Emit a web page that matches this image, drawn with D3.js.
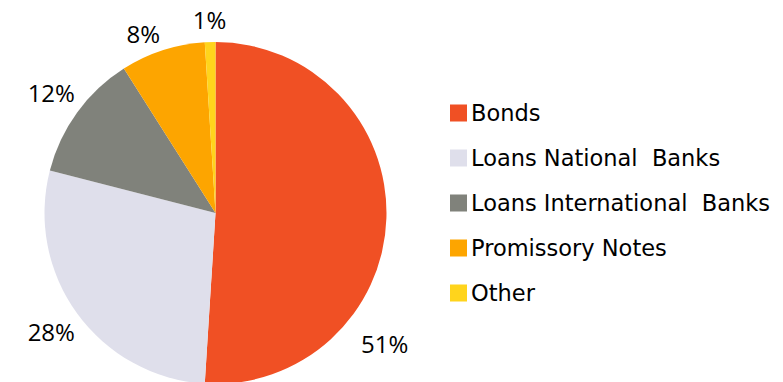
<!DOCTYPE html>
<html>
<head>
<meta charset="utf-8">
<script src="https://cdn.jsdelivr.net/npm/d3@7"></script>
<style>
  html, body { margin: 0; padding: 0; background: #fff; }
  svg { display: block; }
</style>
</head>
<body>
<svg id="chart" width="783" height="382"></svg>
<script>
// Funding sources, share of total (%)
const categories = ["Bonds", "Loans National  Banks", "Loans International  Banks", "Promissory Notes", "Other"];
const shares = [51, 28, 12, 8, 1];
const colors = ["#F05024", "#DFDFEB", "#80827B", "#FDA500", "#FFD41C"];

// Data-label placement (angle offset in degrees, radius) for each slice
const labelNudge = [
  { da: 36, r: 214 },
  { da: 0, r: 203 },
  { da: 0, r: 203 },
  { da: -4, r: 193 },
  { da: 0, r: 193 }
];

const width = 783, height = 382;
const cx = 215.5, cy = 213, radius = 171;

const svg = d3.select("#chart");

const pie = d3.pie().sort(null).value(d => d)
  .startAngle(0).endAngle(2 * Math.PI);
const arcs = pie(shares);

const arc = d3.arc().innerRadius(0).outerRadius(radius);
const color = d3.scaleOrdinal().domain(d3.range(categories.length)).range(colors);

const g = svg.append("g").attr("transform", `translate(${cx},${cy})`);

g.selectAll("path.slice")
  .data(arcs)
  .join("path")
  .attr("class", "slice")
  .attr("d", arc)
  .attr("fill", (d, i) => color(i));

const fmt = d3.format(".0f");
g.selectAll("text.value")
  .data(arcs)
  .join("text")
  .attr("class", "value")
  .attr("transform", (d, i) => {
    const a = (d.startAngle + d.endAngle) / 2 + labelNudge[i].da * Math.PI / 180;
    const r = labelNudge[i].r;
    return `translate(${r * Math.sin(a)},${-r * Math.cos(a)})`;
  })
  .attr("text-anchor", "middle")
  .attr("dy", "0.36em")
  .attr("font-family", "Open Sans")
  .attr("font-size", 24)
  .attr("font-weight", 500)
  .attr("fill", "#000")
  .text(d => fmt(d.data) + "%");

// Legend
const legendY = d3.scalePoint().domain(d3.range(categories.length)).range([113, 293]);
const legend = svg.append("g").attr("class", "legend");
const rows = legend.selectAll("g")
  .data(categories)
  .join("g")
  .attr("transform", (d, i) => `translate(450,${legendY(i)})`);

rows.append("rect")
  .attr("x", 0).attr("y", -8.5)
  .attr("width", 17).attr("height", 17)
  .attr("fill", (d, i) => color(i));

rows.append("text")
  .attr("x", 21)
  .attr("dy", "0.37em")
  .attr("font-family", "DejaVu Sans")
  .attr("font-size", 22.5)
  .attr("fill", "#000")
  .attr("xml:space", "preserve")
  .style("white-space", "pre")
  .text(d => d);
</script>
</body>
</html>
